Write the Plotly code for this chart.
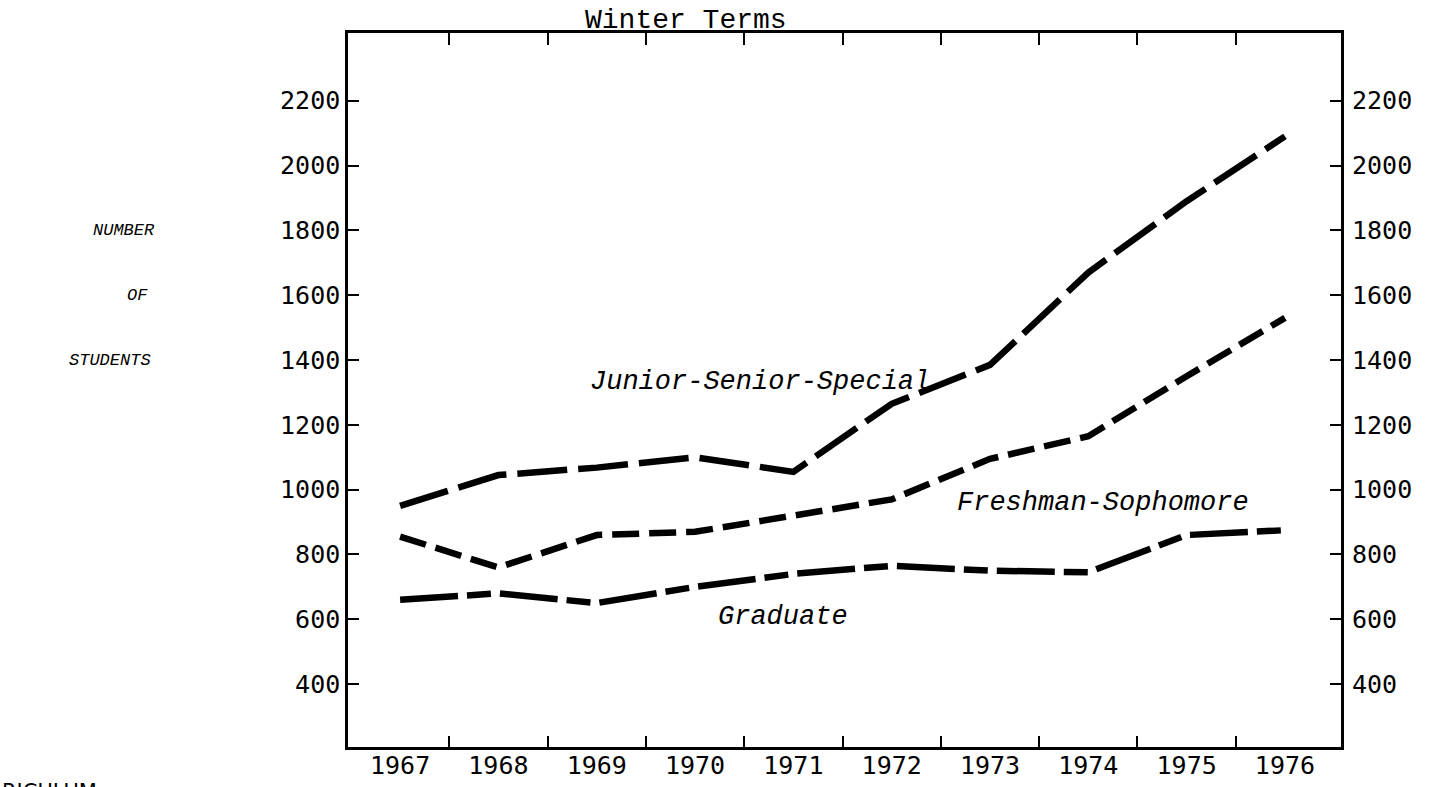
import plotly.graph_objects as go

# ---- data ----
years = [1967, 1968, 1969, 1970, 1971, 1972, 1973, 1974, 1975, 1976]
year_labels = [str(y) for y in years]
junior_senior_special = [950, 1045, 1068, 1100, 1055, 1265, 1385, 1670, 1890, 2090]
freshman_sophomore = [855, 760, 860, 870, 920, 970, 1095, 1165, 1350, 1530]
graduate = [660, 680, 650, 700, 740, 765, 750, 745, 860, 875]
y_ticks = [400, 600, 800, 1000, 1200, 1400, 1600, 1800, 2000, 2200]
x_boundaries = [1967.5, 1968.5, 1969.5, 1970.5, 1971.5, 1972.5, 1973.5, 1974.5, 1975.5]

series_labels = ["Junior-Senior-Special", "Freshman-Sophomore", "Graduate"]

X_RANGE = [1966.47, 1976.57]
Y_RANGE = [206, 2409]

TICK_FONT = dict(family="DejaVu Sans Mono", size=25, color="black")
MONO = "Liberation Mono"

fig = go.Figure()

styles = [
    (junior_senior_special, "50px,11px"),
    (freshman_sophomore, "27px,10px"),
    (graduate, "58px,9px,24px,9px"),
]
for (vals, dash), name in zip(styles, series_labels):
    fig.add_trace(go.Scatter(
        x=years, y=vals, mode="lines", name=name,
        line=dict(color="black", width=6.5, dash=dash),
        showlegend=False, hoverinfo="skip",
    ))

# invisible trace for the right-hand / top axes
fig.add_trace(go.Scatter(x=[years[0]], y=[y_ticks[0]], yaxis="y2", xaxis="x2",
                         mode="markers", marker=dict(opacity=0),
                         showlegend=False, hoverinfo="skip"))

fig.update_layout(
    width=1434, height=787,
    margin=dict(l=348, r=93, t=33, b=40, autoexpand=False),
    paper_bgcolor="white", plot_bgcolor="white",
    xaxis=dict(
        range=X_RANGE, tickvals=years, ticktext=year_labels, ticks="",
        showline=True, linewidth=2.5, linecolor="black", mirror=True,
        showgrid=False, zeroline=False, tickfont=TICK_FONT,
        ticklabelstandoff=-6,
        minor=dict(tickmode="array", tickvals=x_boundaries, ticks="inside",
                   ticklen=11, tickwidth=2, tickcolor="black", showgrid=False),
    ),
    xaxis2=dict(
        range=X_RANGE, overlaying="x", side="top", anchor="y",
        tickvals=x_boundaries, ticks="inside", ticklen=12, tickwidth=2,
        tickcolor="black", showticklabels=False, showline=False,
        showgrid=False, zeroline=False,
    ),
    yaxis=dict(
        range=Y_RANGE, tickvals=y_ticks, ticks="inside", ticklen=11,
        tickwidth=2, tickcolor="black", showline=True, linewidth=2.5,
        linecolor="black", mirror=True, showgrid=False, zeroline=False,
        tickfont=TICK_FONT, ticklabelstandoff=0,
    ),
    yaxis2=dict(
        range=Y_RANGE, overlaying="y", side="right", anchor="x",
        tickvals=y_ticks, ticks="inside", ticklen=11, tickwidth=2,
        tickcolor="black", showline=False, showgrid=False, zeroline=False,
        tickfont=TICK_FONT, ticklabelstandoff=10,
    ),
)

label_font = dict(family=MONO, size=27, color="black", style="italic")
annots = [
    dict(text="Junior-Senior-Special", x=1970.66, y=1332),
    dict(text="Freshman-Sophomore", x=1974.15, y=959),
    dict(text="Graduate", x=1970.89, y=607),
]
for a in annots:
    fig.add_annotation(text=a["text"], x=a["x"], y=a["y"], xref="x", yref="y",
                       xanchor="center", yanchor="middle",
                       showarrow=False, font=label_font)

side_font = dict(family=MONO, size=17, color="black", style="italic")
for txt, px, yv in [("NUMBER", 157, 1800), ("OF", 150, 1600), ("STUDENTS", 153, 1400)]:
    fig.add_annotation(text=txt, x=(px - 348) / 993, y=yv, xref="paper", yref="y",
                       xanchor="right", yanchor="middle",
                       showarrow=False, font=side_font)

fig.add_annotation(text="Winter Terms", x=(686 - 348) / 993, y=1 + 13 / 714,
                   xref="paper", yref="paper", xanchor="center", yanchor="middle",
                   showarrow=False, font=dict(family=MONO, size=28, color="black"))

fig.add_annotation(text="RICULUM", x=-348 / 993, y=-31 / 714, xref="paper", yref="paper",
                   xanchor="left", yanchor="top", showarrow=False,
                   font=dict(family="DejaVu Sans", size=21, color="black"))

fig.write_html("out.html", config={"displayModeBar": False},
               post_script="document.body.style.margin='0';")
